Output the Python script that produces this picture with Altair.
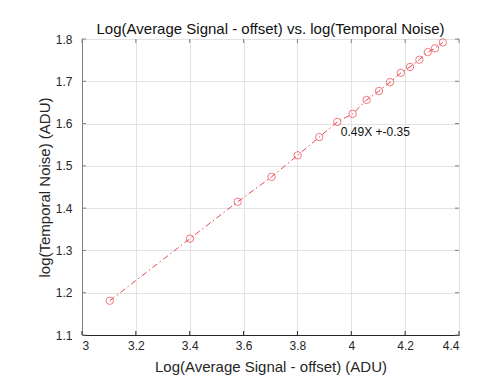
import altair as alt
import pandas as pd

log_signal = [3.103, 3.401, 3.578, 3.704, 3.801, 3.881, 3.948, 4.005, 4.057,
              4.103, 4.144, 4.184, 4.218, 4.253, 4.284, 4.311, 4.340]
log_noise = [1.181, 1.328, 1.415, 1.474, 1.525, 1.568, 1.604, 1.623, 1.656,
             1.677, 1.698, 1.720, 1.734, 1.751, 1.769, 1.778, 1.792]

x_ticks = [3, 3.2, 3.4, 3.6, 3.8, 4, 4.2, 4.4]
y_ticks = [1.1, 1.2, 1.3, 1.4, 1.5, 1.6, 1.7, 1.8]

fit_label = ["0.49X +-0.35"]
fit_label_x = [3.961]
fit_label_y = [1.581]

df = pd.DataFrame({"x": log_signal, "y": log_noise, "order": list(range(len(log_signal)))})
df_lab = pd.DataFrame({"x": fit_label_x, "y": fit_label_y, "t": fit_label})
df_xt = pd.DataFrame({"v": x_ticks})
df_yt = pd.DataFrame({"v": y_ticks})

FONT = "Liberation Sans"
RED = "#e8303a"
W, H = 377, 296
TICK = 4

xscale = alt.Scale(domain=[3, 4.4], nice=False, zero=False)
yscale = alt.Scale(domain=[1.1, 1.8], nice=False, zero=False)

xaxis = alt.Axis(values=x_ticks, title="Log(Average Signal - offset) (ADU)",
                 labelFont=FONT, labelFontSize=12, labelColor="#262626",
                 titleFont=FONT, titleFontSize=15, titleFontWeight="normal",
                 titleColor="#262626", titlePadding=8, labelPadding=5,
                 domainColor="#262626", tickSize=0, gridColor="#e3e3e3",
                 labelExpr="datum.value == 4 ? '4' : (datum.value == 3 ? '3' : format(datum.value, '.1f'))")
yaxis = alt.Axis(values=y_ticks, title="log(Temporal Noise) (ADU)",
                 labelFont=FONT, labelFontSize=12, labelColor="#262626",
                 titleFont=FONT, titleFontSize=15, titleFontWeight="normal",
                 titleColor="#262626", titlePadding=3, labelPadding=10,
                 domainColor="#808080", tickSize=0, gridColor="#e3e3e3",
                 format=".1f")

base = alt.Chart(df)

line = base.mark_line(color=RED, strokeWidth=0.9, strokeDash=[6, 3, 1.5, 3]).encode(
    x=alt.X("x:Q", scale=xscale, axis=xaxis),
    y=alt.Y("y:Q", scale=yscale, axis=yaxis),
    order="order:Q",
)
points = base.mark_point(shape="circle", filled=False, color=RED, size=55, strokeWidth=0.9).encode(
    x=alt.X("x:Q", scale=xscale),
    y=alt.Y("y:Q", scale=yscale),
)
label = alt.Chart(df_lab).mark_text(align="left", baseline="middle", font=FONT,
                                     fontSize=12, color="#111111").encode(
    x=alt.X("x:Q", scale=xscale),
    y=alt.Y("y:Q", scale=yscale),
    text="t:N",
)

# inward tick marks on all four sides (MATLAB box style)
xt_bottom = alt.Chart(df_xt).mark_rule(color="#262626", strokeWidth=1).encode(
    x=alt.X("v:Q", scale=xscale), y=alt.value(H), y2=alt.value(H - TICK))
xt_top = alt.Chart(df_xt).mark_rule(color="#808080", strokeWidth=1).encode(
    x=alt.X("v:Q", scale=xscale), y=alt.value(0), y2=alt.value(TICK))
yt_left = alt.Chart(df_yt).mark_rule(color="#808080", strokeWidth=1).encode(
    y=alt.Y("v:Q", scale=yscale), x=alt.value(0), x2=alt.value(TICK))
yt_right = alt.Chart(df_yt).mark_rule(color="#808080", strokeWidth=1).encode(
    y=alt.Y("v:Q", scale=yscale), x=alt.value(W), x2=alt.value(W - TICK))

chart = alt.layer(line, xt_bottom, xt_top, yt_left, yt_right, points, label).properties(
    width=W, height=H,
    title=alt.TitleParams("Log(Average Signal - offset) vs. log(Temporal Noise)",
                          font=FONT, fontSize=15, fontWeight="normal", color="#111111",
                          offset=-4),
    autosize=alt.AutoSizeParams(type="none"),
    padding={"left": 74, "top": 31, "right": 20, "bottom": 45},
).configure_view(stroke="#9a9a9a", strokeWidth=1).configure(background="white")

chart.save("out.html", embed_options={"renderer": "svg", "actions": False})
